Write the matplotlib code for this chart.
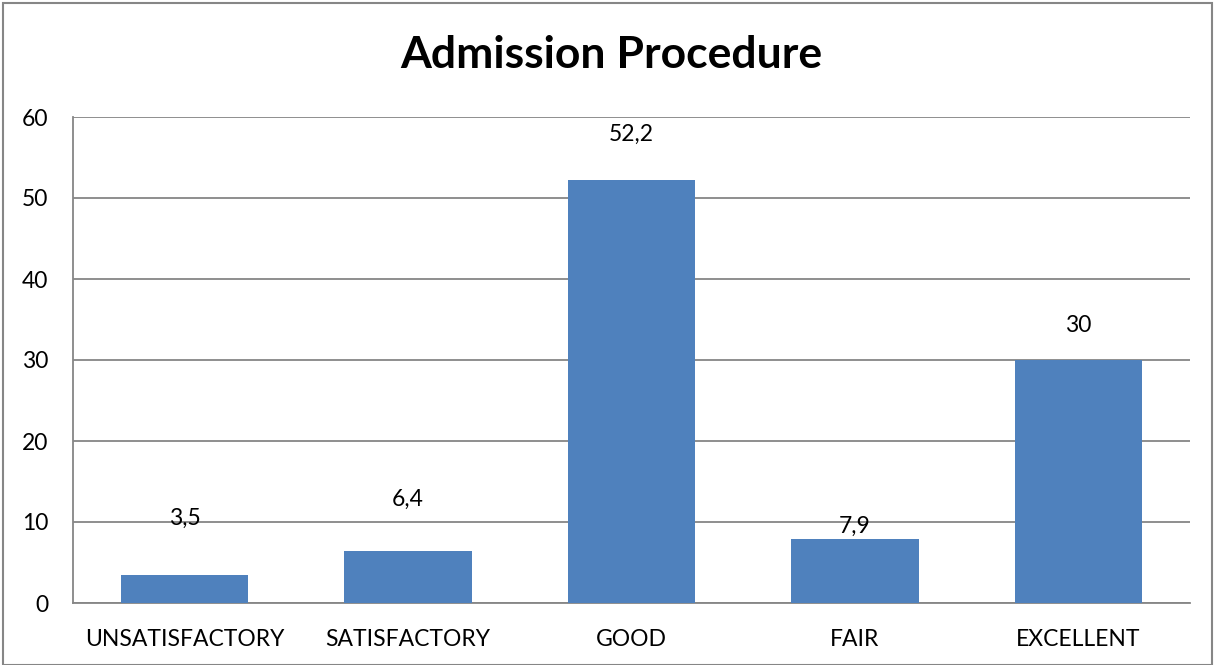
import matplotlib
matplotlib.use("Agg")
import matplotlib.pyplot as plt
from matplotlib.patches import Rectangle

categories = ["UNSATISFACTORY", "SATISFACTORY", "GOOD", "FAIR", "EXCELLENT"]
values = [3.5, 6.4, 52.2, 7.9, 30]
value_labels = ["3,5", "6,4", "52,2", "7,9", "30"]
label_offsets = [7.0, 6.4, 5.6, 1.6, 4.3]
yticks = [0, 10, 20, 30, 40, 50, 60]
title = "Admission Procedure"

plt.rcParams['font.family'] = ['Lato', 'DejaVu Sans']

fig = plt.figure(figsize=(12.16, 6.65), dpi=100)
ax = fig.add_axes([73/1216, 1-603/665, (1190-73)/1216, (603-117)/665])

x = range(len(categories))
ax.bar(x, values, width=0.57, color="#4F81BD", zorder=3)
for xi, v, lab, off in zip(x, values, value_labels, label_offsets):
    ax.text(xi, v + off, lab, ha="center", va="center", fontsize=16.5, color="black", zorder=4)

ax.set_xlim(-0.5, len(categories) - 0.5)
ax.set_ylim(0, 60)
ax.set_yticks(yticks)
ax.set_yticklabels([str(t) for t in yticks], fontsize=16.5)
ax.set_xticks(list(x))
ax.set_xticklabels(categories, fontsize=16.5)
ax.tick_params(axis="both", length=0)
ax.tick_params(axis="y", pad=18)
ax.tick_params(axis="x", pad=19)
ax.yaxis.grid(True, color="#868686", linewidth=1.3, zorder=0)
ax.set_axisbelow(True)
for s in ["top", "right"]:
    ax.spines[s].set_visible(False)
ax.spines["left"].set_color("#868686")
ax.spines["bottom"].set_color("#868686")
ax.spines["left"].set_linewidth(1.3)
ax.spines["bottom"].set_linewidth(1.3)

fig.text(611/1216, 1-55/665, title, ha="center", va="center", fontsize=32, fontweight="bold")

fig.patches.append(Rectangle((3/1216, 0.0), 1209/1216, 1-3/665, transform=fig.transFigure,
                             fill=False, edgecolor="#868686", linewidth=1.5))

fig.savefig("out.png", dpi=100)
